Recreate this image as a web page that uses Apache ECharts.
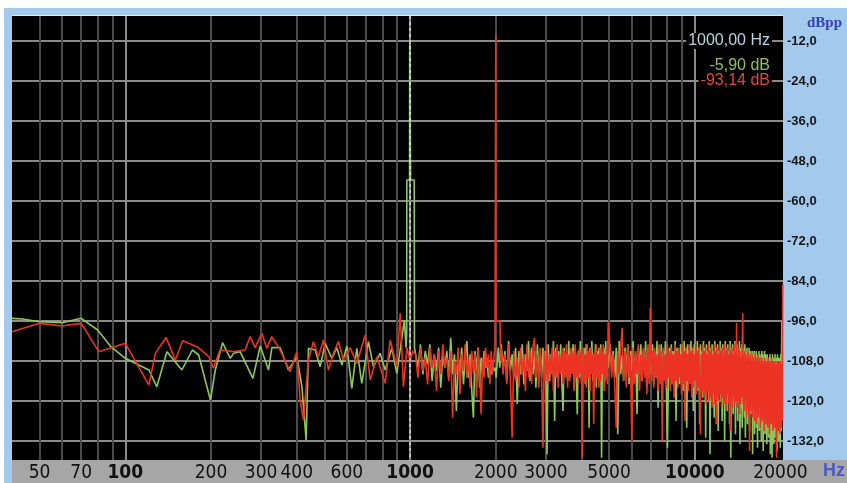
<!DOCTYPE html>
<html>
<head>
<meta charset="utf-8">
<script src="https://cdn.jsdelivr.net/npm/echarts@6/dist/echarts.min.js"></script>
<style>
  html, body { margin: 0; padding: 0; background: #fff; }
  #chart { width: 847px; height: 483px; }
</style>
</head>
<body>
<div id="chart"></div>
<script>
// FFT resolution of the analyser (44.1 kHz / 4096)
const BIN = 44100 / 4096;
const MID_START = 97 * BIN, MID_STEP = 2 * BIN;    // 1044 .. 1970 Hz
const HIA_START = 194 * BIN, HIA_STEP = 3 * BIN;   // 2089 .. 4963 Hz
const HIB_START = 468 * BIN, HIB_STEP = 6 * BIN;   // 5039 .. 20349 Hz

const Y_MIN = -137.7, Y_MAX = -4.5;
const yTicks = [-12, -24, -36, -48, -60, -72, -84, -96, -108, -120, -132];
const gridFreqs = [50, 60, 70, 80, 90, 100, 200, 300, 400, 500, 600, 700, 800, 900,
  1000, 2000, 3000, 4000, 5000, 6000, 7000, 8000, 9000, 10000];
const labelFreqs = [50, 70, 100, 200, 300, 400, 600, 1000, 2000, 3000, 5000, 10000, 20000];
const decades = [100, 1000, 10000];
const CURSOR_F = 1000;

// green channel, low band (read point by point)
const greenLowF = [40, 43.5, 50, 60, 70, 80, 89, 100, 121, 129, 140, 158, 172, 181, 199, 207,
  219.5, 233.6, 239.9, 253, 280.6, 297.7, 318.3, 327.2, 349.9, 374, 400.5, 417, 431.5, 439.8,
  464.2, 483.3, 503.2, 531.4, 553.3, 576, 599.8, 624.5, 650, 676.9, 714, 743.5, 785, 817.5,
  862.7, 898.4, 935.2, 955, 968, 973, 974, 996, 997, 1003, 1004, 1034, 1036];
const greenLowDb = [-95.2, -95.4, -96.2, -96.5, -95.2, -98.7, -103.7, -107.2, -110.7, -115.7,
  -105.2, -110.7, -104.7, -106.2, -119.7, -110.7, -102.5, -107.2, -105.7, -105.2, -113.2, -103.5,
  -110.7, -104, -104, -110.7, -106.7, -115.7, -131.7, -104.2, -104.7, -109.7, -102.7, -107.2,
  -104, -109.2, -103.5, -116.2, -104.2, -114.7, -102.2, -109.7, -105.7, -110.7, -104.2, -111.7,
  -101.2, -95.7, -104, -100, -53.7, -53.7, -12.5, -12.5, -53.7, -53.7, -104];

// red channel, low band
const redLowF = [40, 50, 60, 70, 80.7, 100, 121, 127.5, 139, 149.8, 159, 178.6, 196.6, 203.8,
  215, 239.6, 263.4, 274.3, 285.6, 301.5, 313.9, 326.9, 349.6, 379, 400.2, 411.1, 422.2, 439.5,
  457.6, 476.5, 496.3, 516.9, 538.2, 560.4, 583.4, 615.9, 650.4, 695.5, 724.1, 764.4, 817.6,
  851.4, 898.7, 923, 948, 975, 1000, 1022];
const redLowDb = [-99.2, -96.7, -97.5, -96.7, -105.2, -102.7, -115.2, -105.7, -100.9, -107.7,
  -101.9, -103.7, -106.7, -110.2, -104.7, -105.2, -104.7, -100.7, -104, -99.7, -104.2, -100.7,
  -104.7, -111.2, -105.2, -119.7, -125.7, -107.7, -102.2, -106.7, -101.7, -110.7, -105.7, -102.2,
  -107.7, -104, -108.7, -100.2, -113.7, -106.7, -114.7, -101.7, -109.7, -93.7, -115.7, -104,
  -108, -105];

// 1044 .. 1970 Hz
const greenMidDb = [-104, -110, -103, -112, -105, -109, -103, -114, -106, -111,
  -104, -116, -106, -110, -105, -113, -101, -112, -106, -123,
  -107, -112, -104, -115, -107, -102, -113, -106, -117, -125,
  -105, -111, -104, -116, -107, -112, -105, -110, -108, -113,
  -109, -112, -108, -111];
const redMidDb = [-106, -113, -104, -111, -107, -115, -104, -110, -106, -117,
  -105, -112, -103, -110, -107, -114, -105, -125, -108, -112,
  -104, -118, -106, -111, -103, -113, -107, -116, -105, -112,
  -106, -119, -104, -111, -124, -107, -113, -104, -110, -106,
  -115, -105, -112, -107];

// around the 2 kHz harmonic
const greenToneF = [1990, 2005, 2040, 2065];
const greenToneDb = [-110, -113, -104, -110];
const redToneF = [1985, 1988, 1998, 2000, 2002, 2070, 2078];
const redToneDb = [-104, -96, -96, -10.2, -96, -96, -108];

// 2089 .. 4963 Hz
const greenHiADb = [
  -103, -110, -105, -114, -102, -111, -106, -113, -104, -121,
  -105, -112, -103, -115, -106, -111, -102, -114, -104, -112,
  -105, -116, -103, -111, -106, -113, -104, -112, -105, -136,
  -103, -114, -106, -112, -102, -126, -104, -113, -105, -111,
  -103, -115, -123, -104, -112, -106, -114, -102, -113, -105,
  -111, -103, -116, -104, -112, -124, -105, -113, -102, -114,
  -106, -112, -104, -115, -103, -113, -105, -128, -104, -111,
  -102, -114, -106, -112, -103, -116, -105, -113, -104, -111,
  -103, -137, -105, -112, -104, -114, -102, -113, -106, -110];
const redHiADb = [
  -104, -112, -106, -115, -103, -113, -131, -105, -114, -107,
  -116, -104, -112, -106, -117, -103, -113, -105, -115, -104,
  -101, -113, -106, -116, -104, -112, -134, -105, -114, -103,
  -115, -106, -112, -104, -117, -105, -113, -103, -116, -106,
  -112, -104, -115, -105, -113, -103, -116, -106, -114, -104,
  -112, -105, -117, -103, -113, -106, -115, -104, -112, -105,
  -137, -104, -114, -106, -116, -103, -113, -105, -117, -104,
  -112, -106, -127, -105, -115, -103, -113, -106, -116, -104,
  -114, -105, -112, -103, -117, -106, -113, -104, -115, -96];

// 5039 .. 20349 Hz
const greenHiBDb = [
  -103, -111, -105, -113, -104, -130, -102, -112, -106, -114,
  -104, -112, -103, -115, -105, -111, -102, -113, -106, -124,
  -104, -112, -103, -114, -105, -111, -102, -116, -104, -113,
  -106, -112, -103, -115, -105, -113, -102, -122, -104, -112,
  -103, -114, -105, -112, -102, -116, -134, -113, -104, -111,
  -103, -115, -105, -112, -102, -126, -104, -113, -106, -115,
  -103, -112, -105, -117, -102, -113, -104, -128, -103, -114,
  -105, -112, -102, -115, -104, -123, -103, -113, -105, -116,
  -102, -117, -104, -127, -103, -115, -105, -119, -102, -118,
  -104, -131, -103, -116, -105, -120, -102, -136, -104, -117,
  -103, -119, -105, -125, -102, -118, -104, -121, -103, -129,
  -105, -117, -102, -120, -104, -126, -103, -118, -105, -132,
  -102, -119, -104, -123, -103, -118, -105, -127, -102, -137,
  -104, -120, -103, -124, -105, -119, -102, -130, -104, -121,
  -103, -126, -105, -120, -102, -133, -104, -122, -103, -128,
  -105, -121, -104, -125, -103, -131, -105, -122, -104, -127,
  -106, -123, -104, -129, -105, -124, -106, -121, -105, -136,
  -106, -125, -105, -130, -107, -123, -105, -128, -106, -134,
  -107, -124, -105, -129, -106, -125, -107, -132, -105, -126,
  -106, -135, -107, -124, -105, -130, -106, -127, -107, -133,
  -106, -125, -107, -131, -108, -126, -106, -136, -107, -128,
  -108, -137, -106, -127, -107, -133, -108, -126, -106, -131,
  -108, -129, -107, -135, -106, -128, -108, -132, -107, -127,
  -108, -134, -106, -129, -107, -96, -96, -96];
const redHiBDb = [
  -104, -113, -106, -115, -128, -105, -112, -104, -98, -114,
  -105, -116, -103, -113, -106, -132, -104, -115, -105, -112,
  -103, -117, -106, -114, -104, -113, -105, -118, -103, -115,
  -92, -114, -105, -116, -104, -113, -106, -117, -103, -115,
  -105, -132, -104, -114, -106, -116, -103, -113, -105, -117,
  -104, -115, -106, -119, -103, -114, -105, -116, -104, -113,
  -106, -118, -103, -115, -105, -126, -104, -114, -106, -117,
  -103, -115, -105, -119, -104, -116, -106, -114, -103, -118,
  -105, -116, -104, -120, -130, -106, -117, -103, -119, -105,
  -118, -104, -121, -106, -117, -103, -120, -105, -119, -104,
  -122, -106, -118, -103, -121, -105, -127, -104, -119, -106,
  -120, -103, -118, -105, -122, -104, -119, -106, -121, -103,
  -120, -105, -123, -104, -118, -106, -121, -103, -129, -105,
  -120, -104, -122, -106, -119, -103, -121, -105, -120, -96.6,
  -122, -106, -120, -104, -124, -105, -121, -107, -119, -105,
  -93.7, -121, -106, -123, -105, -120, -107, -125, -106, -122,
  -105, -124, -107, -135, -106, -123, -108, -121, -106, -125,
  -107, -122, -108, -126, -106, -123, -107, -127, -108, -124,
  -106, -125, -108, -122, -107, -128, -109, -124, -107, -126,
  -108, -123, -109, -129, -107, -125, -108, -127, -109, -124,
  -108, -128, -107, -125, -109, -130, -108, -126, -109, -127,
  -107, -124, -109, -129, -108, -126, -109, -128, -108, -125,
  -109, -131, -137, -108, -127, -109, -129, -108, -126, -109,
  -130, -108, -127, -109, -128, -109, -126, -85];

function buildTrace(lowF, lowDb, midDb, toneF, toneDb, hiADb, hiBDb) {
  const pts = lowF.map((f, i) => [f, lowDb[i]]);
  midDb.forEach((v, k) => pts.push([MID_START + k * MID_STEP, v]));
  toneF.forEach((f, i) => pts.push([f, toneDb[i]]));
  hiADb.forEach((v, k) => pts.push([HIA_START + k * HIA_STEP, v]));
  hiBDb.forEach((v, k) => pts.push([HIB_START + k * HIB_STEP, v]));
  return pts;
}

const NARROW = '"Liberation Sans Narrow", "DejaVu Sans Condensed", "Liberation Sans", sans-serif';

// vertical grid + frequency labels
const xMarks = Array.from(new Set(gridFreqs.concat(labelFreqs))).map(f => {
  const isDec = decades.includes(f);
  const hasLine = gridFreqs.includes(f);
  return {
    xAxis: f,
    lineStyle: {
      color: hasLine ? (isDec ? '#8a8a8a' : '#4c4c4c') : 'rgba(0,0,0,0)',
      width: 2,
      type: 'solid'
    },
    label: {
      show: labelFreqs.includes(f),
      position: 'start',
      distance: 4,
      formatter: String(f),
      color: '#111',
      fontFamily: NARROW,
      fontSize: 19,
      fontWeight: isDec ? 'bold' : 'normal'
    }
  };
});

const chart = echarts.init(document.getElementById('chart'));

chart.setOption({
  animation: false,
  graphic: [
    { type: 'rect', z: -10, shape: { x: 4, y: 8, width: 843, height: 475 }, style: { fill: '#a3c9ec' } },
    { type: 'rect', z: -9, shape: { x: 12, y: 460, width: 835, height: 23 }, style: { fill: '#a6a6a6' } },
    { type: 'rect', z: -9, shape: { x: 12, y: 15, width: 771, height: 1 }, style: { fill: '#e6eef6' } },
    { type: 'text', z: 20, x: 807, y: 16,
      style: { text: 'dBpp', fill: '#3340b8', font: 'bold 15px "Liberation Serif", serif' } },
    { type: 'text', z: 20, x: 823, y: 471,
      style: { text: 'Hz', fill: '#4a58c8', font: 'bold 18px "Liberation Sans", sans-serif', verticalAlign: 'middle' } },
    { type: 'text', z: 20, x: 772, y: 41,
      style: { text: '1000,00 Hz', fill: '#b8d4e2', font: '16px "Liberation Sans", sans-serif',
        align: 'right', verticalAlign: 'middle', backgroundColor: '#000', padding: [0, 2] } },
    { type: 'text', z: 20, x: 772, y: 66,
      style: { text: '-5,90 dB', fill: '#8fc065', font: '16px "Liberation Sans", sans-serif',
        align: 'right', verticalAlign: 'middle', backgroundColor: '#000', padding: [0, 2] } },
    { type: 'text', z: 20, x: 772, y: 81,
      style: { text: '-93,14 dB', fill: '#e0483a', font: '16px "Liberation Sans", sans-serif',
        align: 'right', verticalAlign: 'middle', backgroundColor: '#000', padding: [0, 2] } }
  ],
  grid: {
    left: 12, right: 64, top: 16, bottom: 23,
    show: true, backgroundColor: '#000', borderWidth: 0
  },
  xAxis: {
    type: 'log',
    logBase: 10,
    min: 40,
    max: 20400,
    axisLine: { show: false },
    axisTick: { show: false },
    axisLabel: { show: false },
    splitLine: { show: false }
  },
  yAxis: {
    type: 'value',
    position: 'right',
    min: Y_MIN,
    max: Y_MAX,
    axisLine: { show: false },
    axisTick: { show: false, customValues: yTicks },
    axisLabel: {
      customValues: yTicks,
      margin: 4,
      color: '#161616',
      fontFamily: '"Liberation Sans", sans-serif',
      fontWeight: 'bold',
      fontSize: 13,
      formatter: v => v.toFixed(1).replace('.', ',')
    },
    splitLine: { lineStyle: { color: '#8e8a8a', width: 2 } }
  },
  series: [
    {
      type: 'line',
      data: [],
      z: 1,
      silent: true,
      markLine: { silent: true, symbol: ['none', 'none'], animation: false, data: xMarks }
    },
    {
      name: 'L',
      type: 'line',
      data: buildTrace(greenLowF, greenLowDb, greenMidDb, greenToneF, greenToneDb, greenHiADb, greenHiBDb),
      showSymbol: false,
      silent: true,
      z: 6,
      lineStyle: { color: '#8cc85a', width: 1.6 }
    },
    {
      name: 'R',
      type: 'line',
      data: buildTrace(redLowF, redLowDb, redMidDb, redToneF, redToneDb, redHiADb, redHiBDb),
      showSymbol: false,
      silent: true,
      z: 7,
      lineStyle: { color: '#ec3323', width: 1.6 }
    },
    {
      // measurement cursor
      type: 'line',
      data: [[CURSOR_F, Y_MAX], [CURSOR_F, Y_MIN]],
      showSymbol: false,
      silent: true,
      z: 8,
      lineStyle: { color: '#ffffff', width: 1, type: [3, 3] }
    }
  ]
});
</script>
</body>
</html>
